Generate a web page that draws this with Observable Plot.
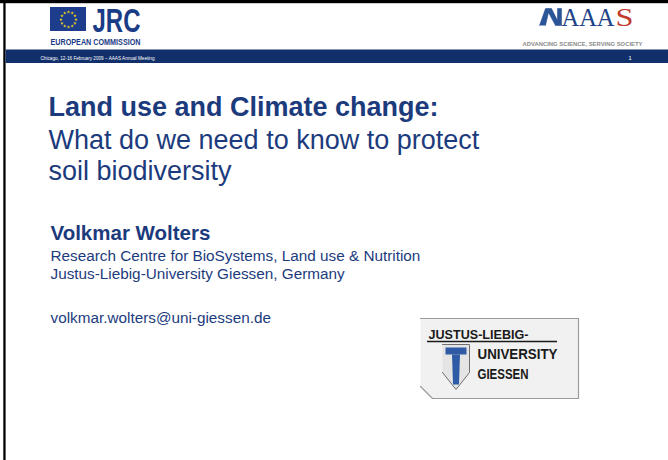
<!DOCTYPE html>
<html>
<head>
<meta charset="utf-8">
<script src="https://cdn.jsdelivr.net/npm/d3@7"></script>
<script src="https://cdn.jsdelivr.net/npm/@observablehq/plot@0.6"></script>
<style>
  html, body { margin: 0; padding: 0; background: #fff; }
  svg { display: block; }
</style>
</head>
<body>
<div id="chart"></div>
<script>
// ---- content ----
const headerLine = ["Chicago, 12-16 February 2009 – AAAS Annual Meeting"];
const slideNumber = ["1"];
const jrcLabel = ["JRC"];
const ecLabel = ["EUROPEAN COMMISSION"];
const aaasLetters = ["AAA", "S"];
const aaasTagline = ["ADVANCING SCIENCE, SERVING SOCIETY"];
const titleLine = ["Land use and Climate change:"];
const subtitleLines = ["What do we need to know to protect", "soil biodiversity"];
const authorName = ["Volkmar Wolters"];
const affiliationLines = ["Research Centre for BioSystems, Land use & Nutrition", "Justus-Liebig-University Giessen, Germany"];
const emailLine = ["volkmar.wolters@uni-giessen.de"];
const uniTop = ["JUSTUS-LIEBIG-"];
const uniLines = ["UNIVERSITY", "GIESSEN"];

// ---- drawing geometry (layout, not data) ----
const NAVY = "#1c3b7d";
const euStars = d3.range(12).map(i => ({a: i * Math.PI / 6}));
const aaasMark = [[539,25],[545,8],[551,8],[557,20],[557,8],[561,8],[561,25],[555,25],[548,12],[545,25]].map(([x,y]) => ({x,y}));
const logoBox = [[420,318],[578,318],[578,398],[432,398],[420,386]].map(([x,y]) => ({x,y}));
const shield = [[442,344],[469,344],[469,372],[455.5,389],[442,372]].map(([x,y]) => ({x,y}));
const tBar = [[445,347],[466,347],[466,354],[445,354]].map(([x,y]) => ({x,y}));
const tStem = [[451.5,354],[459.5,354],[458.5,384],[452.5,384]].map(([x,y]) => ({x,y}));

const sans = "'Liberation Sans', Arial, Helvetica, sans-serif";
const serif = "'Liberation Serif', 'Times New Roman', serif";
const C = v => () => v;

const chart = Plot.plot({
  width: 668,
  height: 460,
  margin: 0,
  x: {domain: [0, 668], range: [0, 668], axis: null},
  y: {domain: [0, 460], range: [0, 460], axis: null},
  style: {background: "#ffffff"},
  marks: [
    // slide frame
    Plot.rect([0], {x1: C(0), x2: C(668), y1: C(0), y2: C(3.2), fill: "#000"}),
    Plot.rect([0], {x1: C(3.3), x2: C(5.6), y1: C(0), y2: C(460), fill: "#000"}),
    // header band
    Plot.rect([0], {x1: C(5.6), x2: C(668), y1: C(49.5), y2: C(63), fill: "#11306b"}),
    Plot.text(headerLine, {x: C(40), y: C(59), text: d => d, textAnchor: "start", lineAnchor: "bottom", fill: "#ffffff", fontSize: 5.6, fontFamily: sans, className: "hdr"}),
    Plot.text(slideNumber, {x: C(628), y: C(59), text: d => d, textAnchor: "start", lineAnchor: "bottom", fill: "#ffffff", fontSize: 5.6, fontFamily: sans}),
    // JRC logo
    Plot.rect([0], {x1: C(50), x2: C(86), y1: C(7), y2: C(31), fill: "#1d3d8c"}),
    Plot.dot(euStars, {x: d => 68 + 7.5 * Math.sin(d.a), y: d => 19 - 7.5 * Math.cos(d.a), symbol: "star", r: 1.1, fill: "#f2d21b", stroke: "none"}),
    Plot.text(jrcLabel, {x: C(92), y: C(31), text: d => d, textAnchor: "start", lineAnchor: "bottom", fill: "#1a3c87", fontSize: 33, fontWeight: "bold", fontFamily: sans, className: "jrc"}),
    Plot.text(ecLabel, {x: C(50), y: C(44.5), text: d => d, textAnchor: "start", lineAnchor: "bottom", fill: "#1a3c87", fontSize: 9, fontWeight: "bold", fontFamily: sans, className: "ec"}),
    // AAAS logo
    Plot.line(aaasMark, {x: "x", y: "y", fill: "#2a5597", stroke: "#1d4389", strokeWidth: 0.5}),
    Plot.text(aaasLetters, {x: (d, i) => [561, 615][i], y: C(25.5), text: d => d, textAnchor: "start", lineAnchor: "bottom", fill: (d, i) => ["#1f4489", "#c23a2f"][i], fontSize: 25, fontFamily: serif, className: "aaas"}),
    Plot.text(aaasTagline, {x: C(522), y: C(45), text: d => d, textAnchor: "start", lineAnchor: "bottom", fill: "#8c8c8c", fontSize: 5, fontWeight: "bold", fontFamily: sans, className: "tag"}),
    // Title block
    Plot.text(titleLine, {x: C(48), y: C(115), text: d => d, textAnchor: "start", lineAnchor: "bottom", fill: NAVY, fontSize: 27, fontWeight: "bold", fontFamily: sans}),
    Plot.text(subtitleLines, {x: C(48), y: (d, i) => 148 + i * 31, text: d => d, textAnchor: "start", lineAnchor: "bottom", fill: NAVY, fontSize: 27, fontFamily: sans}),
    // Author
    Plot.text(authorName, {x: C(50), y: C(239), text: d => d, textAnchor: "start", lineAnchor: "bottom", fill: NAVY, fontSize: 20.5, fontWeight: "bold", fontFamily: sans}),
    Plot.text(affiliationLines, {x: C(50), y: (d, i) => 260 + i * 18, text: d => d, textAnchor: "start", lineAnchor: "bottom", fill: NAVY, fontSize: 15.3, fontFamily: sans}),
    Plot.text(emailLine, {x: C(50), y: C(322), text: d => d, textAnchor: "start", lineAnchor: "bottom", fill: NAVY, fontSize: 15.3, fontFamily: sans}),
    // University logo
    Plot.line(logoBox, {x: "x", y: "y", fill: "#f1f1f1", stroke: "#9a9a9a", strokeWidth: 1.2}),
    Plot.text(uniTop, {x: C(428), y: C(338.5), text: d => d, textAnchor: "start", lineAnchor: "bottom", fill: "#1a1a1a", fontSize: 13, fontWeight: "bold", fontFamily: sans, className: "unitop"}),
    Plot.ruleY([0], {y: C(341), x1: C(427), x2: C(557), stroke: "#1a1a1a", strokeWidth: 1.6}),
    Plot.line(shield, {x: "x", y: "y", fill: "#e4e4e4", stroke: "#6e6e6e", strokeWidth: 1}),
    Plot.line(tBar, {x: "x", y: "y", fill: "#2e5aa6", stroke: "none"}),
    Plot.line(tStem, {x: "x", y: "y", fill: "#2e5aa6", stroke: "none"}),
    Plot.text(uniLines, {x: C(477), y: (d, i) => 358.5 + i * 20, text: d => d, textAnchor: "start", lineAnchor: "bottom", fill: "#1a1a1a", fontSize: 15, fontWeight: "bold", fontFamily: sans, className: "uni"})
  ]
});

document.getElementById("chart").appendChild(chart);

// condensed logo lettering
function squeeze(cls, lengths) {
  d3.select(chart).selectAll(`g.${cls} text`).each(function(d, i) {
    const L = lengths[i];
    if (L) d3.select(this).attr("textLength", L).attr("lengthAdjust", "spacingAndGlyphs");
  });
}
squeeze("jrc", [48]);
squeeze("ec", [90]);
squeeze("aaas", [53, 18]);
squeeze("tag", [120]);
squeeze("hdr", [114]);
squeeze("unitop", [100]);
squeeze("uni", [80, 51]);
</script>
</body>
</html>
